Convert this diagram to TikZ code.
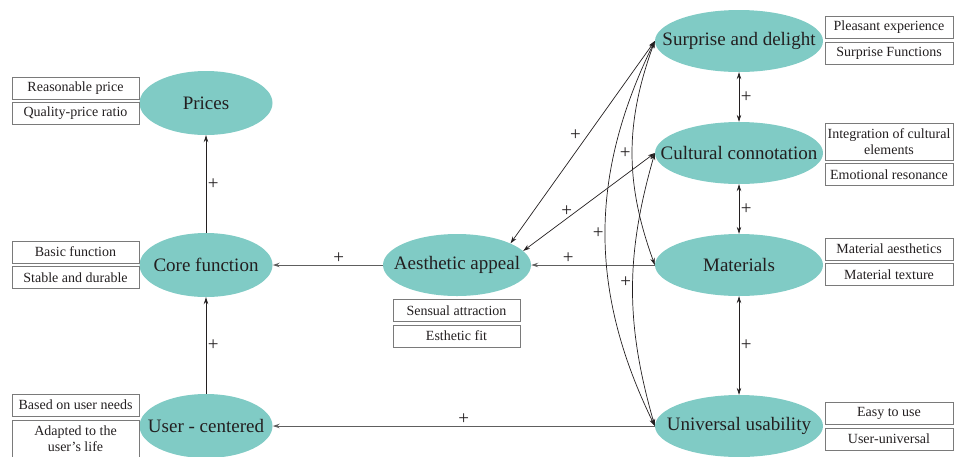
\documentclass[tikz,border=0pt]{standalone}
\usepackage{fontspec}
\setmainfont{Liberation Serif}
\usetikzlibrary{arrows.meta,positioning,shapes.geometric}
\definecolor{tealfill}{HTML}{80CBC5}
\definecolor{boxline}{HTML}{7A7A7A}
\definecolor{ink}{HTML}{231F20}
\definecolor{linkgray}{HTML}{5E5E5E}

\begin{document}
\begin{tikzpicture}[
  x=1pt,y=-1pt,
  >={Stealth[length=7pt,width=4.5pt]},
  factor/.style={ellipse,fill=tealfill,minimum width=133pt,minimum height=64pt,inner sep=0pt},
  ftext/.style={font=\fontsize{19}{21}\selectfont,text=ink,inner sep=0pt},
  item/.style={draw=boxline,line width=0.6pt,minimum width=127pt,minimum height=22pt,
               inner sep=1pt,align=center,font=\fontsize{14}{16}\selectfont,text=ink},
  link/.style={->,line width=0.7pt,color=ink},
  flat/.style={->,line width=1pt,color=linkgray},
  plus/.style={font=\fontsize{19}{19}\selectfont,text=ink,inner sep=1.5pt}
]
\useasboundingbox (0,0) rectangle (955,456);

% factors
\node[factor,label={[ftext]center:Prices}] (prices) at (206,103) {};
\node[factor,label={[ftext]center:Core function}] (core) at (206,265) {};
\node[factor,label={[ftext]center:User - centered}] (user) at (206,426) {};
\node[factor,minimum width=148pt,minimum height=62pt,label={[ftext]center:Aesthetic appeal}] (aes) at (457,265) {};
\node[factor,minimum width=168pt,minimum height=62pt,label={[ftext]center:Surprise and delight}] (sur) at (739,41) {};
\node[factor,minimum width=168pt,minimum height=62pt,label={[ftext]center:Cultural connotation}] (cul) at (739,153) {};
\node[factor,minimum width=168pt,minimum height=62pt,label={[ftext]center:Materials}] (mat) at (739,265) {};
\node[factor,minimum width=168pt,minimum height=62pt,label={[ftext]center:Universal usability}] (uni) at (739,426) {};

% attribute boxes
\node[item] (reas) at (75.5,88) {Reasonable price};
\node[item,below=3pt of reas] (qual) {Quality-price ratio};
\node[item] (basic) at (75.5,252) {Basic function};
\node[item,below=3pt of basic] (stable) {Stable and durable};
\node[item] (needs) at (75.5,405) {Based on user needs};
\node[item,below=4pt of needs,minimum height=37pt] (adapt) {Adapted to the\\user's life};
\node[item] (sens) at (456.5,310.5) {Sensual attraction};
\node[item,below=3pt of sens] (fit) {Esthetic fit};
\node[item,minimum width=128pt] (pleas) at (889,27.5) {Pleasant experience};
\node[item,minimum width=128pt,below=3pt of pleas] (surf) {Surprise Functions};
\node[item,minimum width=128pt,minimum height=37pt] (integ) at (889,141.5) {Integration of cultural\\elements};
\node[item,minimum width=128pt,below=3pt of integ] (emot) {Emotional resonance};
\node[item,minimum width=128pt] (maes) at (889,249) {Material aesthetics};
\node[item,minimum width=128pt,below=3pt of maes] (mtex) {Material texture};
\node[item,minimum width=128pt] (easy) at (889,413.5) {Easy to use};
\node[item,minimum width=128pt,below=3pt of easy] (uuni) {User-universal};

% links
\draw[link] (core) -- node[plus,right]{+} (prices);
\draw[link] (user) -- node[plus,right]{+} (core);
\draw[flat] (aes) -- node[plus,above,pos=.4]{+} (core);
\draw[flat] (mat) -- node[plus,above,pos=.7]{+} (aes);
\draw[flat] (uni) -- node[plus,above]{+} (user);
\draw[link,<->] (sur) -- node[plus,right]{+} (cul);
\draw[link,<->] (cul) -- node[plus,right]{+} (mat);
\draw[link,<->] (mat) -- node[plus,right]{+} (uni);
\draw[link,<->] (sur.west) -- node[plus,above left,pos=.5]{+} (aes.22);
\draw[link,<->] (cul.west) -- node[plus,above,pos=.67]{+} (aes.12);
\draw[link,<->] (sur.west) to[bend right=20] node[plus,left,pos=.5]{+} (mat.west);
\draw[link,<->] (sur.west) to[bend right=26] node[plus,left,pos=.5]{+} (uni.west);
\draw[link,<->] (cul.west) to[bend right=16] node[plus,left,pos=.47]{+} (uni.west);
\end{tikzpicture}
\end{document}
